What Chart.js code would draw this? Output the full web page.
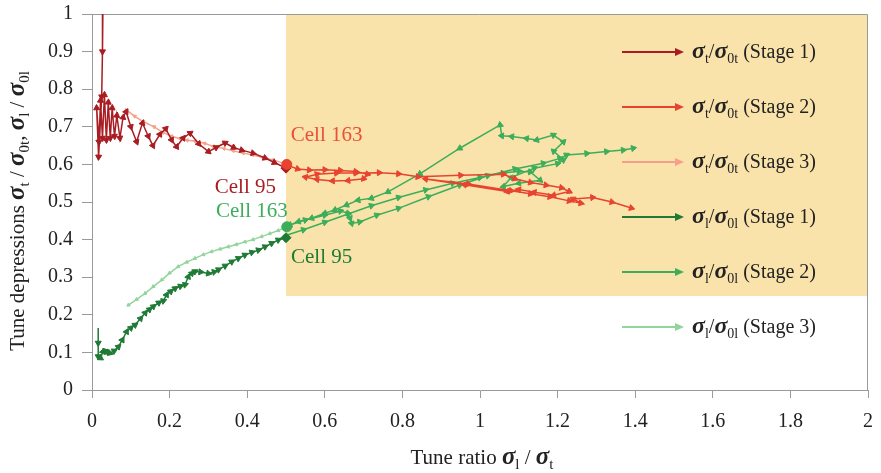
<!DOCTYPE html>
<html><head><meta charset="utf-8">
<script src="https://cdn.jsdelivr.net/npm/chart.js@4.4.1/dist/chart.umd.min.js"></script>
<style>html,body{margin:0;padding:0;background:#fff}#wrap{width:881px;height:473px}</style>
</head><body><div id="wrap"><canvas id="c" width="881" height="473"></canvas></div>
<script>
// ---- data ----
const xTickLabels = ['0','0.2','0.4','0.6','0.8','1','1.2','1.4','1.6','1.8','2'];
const yTickLabels = ['0','0.1','0.2','0.3','0.4','0.5','0.6','0.7','0.8','0.9','1'];
const shadeX = [0.5, 2];
const shadeY = [0.25, 1];

const tStage1 = [[0.028,1.0],[0.027,0.90],[0.025,0.78],[0.017,0.62],[0.012,0.75],[0.018,0.66],[0.022,0.77],[0.027,0.67],[0.032,0.785],[0.037,0.665],[0.042,0.765],[0.047,0.67],[0.052,0.75],[0.058,0.675],[0.064,0.73],[0.072,0.67],[0.08,0.725],[0.088,0.74],[0.1,0.70],[0.115,0.66],[0.13,0.71],[0.145,0.675],[0.157,0.65],[0.175,0.68],[0.19,0.695],[0.205,0.665],[0.218,0.647],[0.235,0.67],[0.253,0.683],[0.275,0.655],[0.30,0.634],[0.32,0.645],[0.343,0.657],[0.365,0.645],[0.386,0.638],[0.415,0.63],[0.446,0.617],[0.47,0.605],[0.5,0.59]];
const tStage2 = [[0.505,0.597],[0.53,0.588],[0.56,0.585],[0.60,0.586],[0.64,0.584],[0.68,0.581],[0.71,0.574],[0.70,0.562],[0.66,0.557],[0.62,0.556],[0.58,0.56],[0.55,0.566],[0.58,0.574],[0.63,0.577],[0.68,0.577],[0.74,0.578],[0.79,0.575],[0.84,0.567],[0.95,0.571],[1.06,0.574],[1.09,0.562],[1.13,0.552],[1.17,0.545],[1.21,0.538],[1.23,0.528],[1.19,0.518],[1.14,0.526],[1.10,0.533],[1.07,0.528],[0.96,0.546],[0.86,0.561],[0.97,0.548],[1.08,0.53],[1.13,0.522],[1.18,0.514],[1.23,0.503],[1.26,0.497],[1.24,0.508],[1.29,0.512],[1.34,0.5],[1.39,0.484]];
const tStage3 = [[0.502,0.600],[0.467,0.612],[0.44,0.618],[0.415,0.625],[0.39,0.630],[0.364,0.636],[0.34,0.642],[0.312,0.648],[0.29,0.656],[0.265,0.662],[0.245,0.664],[0.227,0.668],[0.205,0.675],[0.183,0.685],[0.16,0.700],[0.132,0.714],[0.11,0.728],[0.089,0.745]];
const lStage1 = [[0.016,0.165],[0.016,0.125],[0.016,0.089],[0.022,0.085],[0.028,0.102],[0.034,0.104],[0.04,0.1],[0.046,0.098],[0.057,0.104],[0.068,0.115],[0.078,0.133],[0.089,0.155],[0.1,0.165],[0.111,0.173],[0.125,0.19],[0.137,0.205],[0.148,0.214],[0.158,0.222],[0.172,0.232],[0.184,0.237],[0.192,0.253],[0.203,0.262],[0.214,0.27],[0.228,0.276],[0.24,0.28],[0.248,0.301],[0.257,0.31],[0.265,0.315],[0.28,0.314],[0.30,0.31],[0.315,0.314],[0.326,0.32],[0.343,0.33],[0.36,0.341],[0.377,0.35],[0.394,0.359],[0.412,0.366],[0.429,0.372],[0.446,0.381],[0.463,0.39],[0.48,0.399],[0.5,0.405]];
const lStage2 = [[0.503,0.412],[0.545,0.426],[0.60,0.446],[0.66,0.468],[0.72,0.49],[0.79,0.512],[0.86,0.532],[0.93,0.55],[1.0,0.565],[1.06,0.577],[1.10,0.582],[1.13,0.58],[1.155,0.558],[1.10,0.55],[1.06,0.541],[1.08,0.565],[1.14,0.59],[1.2,0.602],[1.215,0.612],[1.19,0.635],[1.215,0.66],[1.189,0.678],[1.146,0.665],[1.12,0.669],[1.082,0.674],[1.056,0.676],[1.052,0.705],[0.948,0.643],[0.845,0.575],[0.763,0.527],[0.72,0.51],[0.686,0.505],[0.656,0.492],[0.626,0.479],[0.60,0.47],[0.566,0.457],[0.532,0.448],[0.51,0.439],[0.55,0.452],[0.60,0.465],[0.64,0.476],[0.66,0.47],[0.665,0.457],[0.669,0.443],[0.69,0.447],[0.734,0.465],[0.79,0.483],[0.867,0.514],[0.948,0.545],[1.02,0.57],[1.09,0.588],[1.163,0.603],[1.206,0.616],[1.223,0.625],[1.275,0.629],[1.326,0.634],[1.369,0.638],[1.395,0.643]];
const lStage3 = [[0.502,0.434],[0.48,0.424],[0.458,0.416],[0.437,0.408],[0.415,0.40],[0.394,0.394],[0.372,0.387],[0.351,0.381],[0.33,0.375],[0.308,0.368],[0.287,0.36],[0.265,0.35],[0.244,0.34],[0.222,0.328],[0.2,0.311],[0.18,0.293],[0.158,0.275],[0.137,0.257],[0.115,0.241],[0.094,0.226]];

const seriesSym = ['t','t','t','l','l','l'];
const seriesStage = ['1','2','3','1','2','3'];
const seriesColors = ['#A81C22','#E8432F','#F5A08A','#1E7A34','#3CAE5A','#92D49C'];

// ---- helpers ----
const SERIF = "'Liberation Serif','Times New Roman',serif";
const pts = a => a.map(p => ({x:p[0], y:p[1]}));

function arrowRot(ctx){
  const d = ctx.dataset.data, i = ctx.dataIndex, ch = ctx.chart;
  if (!d || d.length < 2 || !ch.scales || !ch.scales.x) return 0;
  const a = d[i > 0 ? i-1 : 0], b = d[i > 0 ? i : 1];
  const sx = ch.scales.x, sy = ch.scales.y;
  const dx = sx.getPixelForValue(b.x) - sx.getPixelForValue(a.x);
  const dy = sy.getPixelForValue(b.y) - sy.getPixelForValue(a.y);
  return Math.atan2(dy, dx) * 180 / Math.PI + 90;
}
function lineDs(label, arr, color, r){
  return {label, data: pts(arr), showLine:true, borderColor:color, backgroundColor:color,
    borderWidth:1.5, tension:0, pointStyle:'triangle',
    pointRadius: c => c.dataIndex === 0 ? 0 : r, pointRotation: arrowRot,
    pointBackgroundColor:color, pointBorderColor:color, pointBorderWidth:1, pointHoverRadius:0};
}
function markerDs(label, p, color, style, r){
  return {label, data: pts([p]), showLine:false, pointStyle:style, pointRadius:r,
    pointBackgroundColor:color, pointBorderColor:color, pointBorderWidth:1, pointHoverRadius:0};
}

function rich(ctx, segs, x, y, align){
  let w = 0;
  for (const s of segs){ ctx.font = s.f; w += ctx.measureText(s.t).width; }
  let cx = align === 'center' ? x - w/2 : align === 'right' ? x - w : x;
  ctx.textAlign = 'left'; ctx.textBaseline = 'alphabetic';
  for (const s of segs){ ctx.font = s.f; ctx.fillStyle = s.c || '#222'; ctx.fillText(s.t, cx, y + (s.dy||0)); cx += ctx.measureText(s.t).width; }
}
function sig(sub, size){
  return [{t:'σ', f:`italic bold ${size+4}px ${SERIF}`},
          {t:sub, f:`${Math.round(size*0.72)}px ${SERIF}`, dy: Math.round(size*0.25)}];
}
function txt(t, size){ return {t, f:`${size}px ${SERIF}`}; }
function noPad(s){ s.paddingLeft = 0; s.paddingRight = 0; s.paddingTop = 0; s.paddingBottom = 0; }

// ---- plugins ----
const shadePlugin = {
  id:'shade',
  beforeDatasetsDraw(chart){
    const {ctx, scales:{x,y}, chartArea:a} = chart;
    ctx.save();
    ctx.fillStyle = '#FAE3AA';
    const x0 = x.getPixelForValue(shadeX[0]), x1 = x.getPixelForValue(shadeX[1]);
    const y0 = y.getPixelForValue(shadeY[1]), y1 = y.getPixelForValue(shadeY[0]);
    ctx.fillRect(x0, y0, x1-x0, y1-y0);
    ctx.strokeStyle = '#9a9a9a'; ctx.lineWidth = 1;
    ctx.beginPath();
    ctx.moveTo(a.left, a.top+0.5); ctx.lineTo(a.right-0.5, a.top+0.5); ctx.lineTo(a.right-0.5, a.bottom);
    ctx.stroke();
    ctx.restore();
  }
};
const annotPlugin = {
  id:'annot',
  afterDatasetsDraw(chart){
    const {ctx, scales:{x,y}} = chart;
    ctx.save();
    const P = p => [x.getPixelForValue(p[0]), y.getPixelForValue(p[1])];
    const fs = 21;
    let q = P(tStage3[0]);
    rich(ctx, [{t:'Cell 163', f:`${fs}px ${SERIF}`, c:'#E8503A'}], q[0]+4, q[1]-23, 'left');
    q = P(tStage1[tStage1.length-1]);
    rich(ctx, [{t:'Cell 95', f:`${fs}px ${SERIF}`, c:'#A81C22'}], q[0]-10, q[1]+25, 'right');
    q = P(lStage3[0]);
    rich(ctx, [{t:'Cell 163', f:`${fs}px ${SERIF}`, c:'#3CAE5A'}], q[0]+1, q[1]-10, 'right');
    q = P(lStage1[lStage1.length-1]);
    rich(ctx, [{t:'Cell 95', f:`${fs}px ${SERIF}`, c:'#1E7A34'}], q[0]+5, q[1]+25, 'left');

    // Legend
    for (let i = 0; i < 6; i++){
      const yy = 52 + i*55, col = seriesColors[i];
      ctx.strokeStyle = col; ctx.fillStyle = col; ctx.lineWidth = 2;
      ctx.beginPath(); ctx.moveTo(622, yy); ctx.lineTo(677, yy); ctx.stroke();
      ctx.beginPath(); ctx.moveTo(684, yy); ctx.lineTo(675, yy-4); ctx.lineTo(675, yy+4); ctx.closePath(); ctx.fill();
      const s = seriesSym[i];
      rich(ctx, [...sig(s,20), txt('/',20), ...sig('0'+s,20), txt(' (Stage '+seriesStage[i]+')',20)], 692, yy+6, 'left');
    }

    // Axis titles
    rich(ctx, [txt('Tune ratio ',21), ...sig('l',21), txt(' / ',21), ...sig('t',21)], 482, 464, 'center');
    ctx.translate(24, 211); ctx.rotate(-Math.PI/2);
    rich(ctx, [txt('Tune depressions ',21), ...sig('t',21), txt(' / ',21), ...sig('0t',21), txt(', ',21),
               ...sig('l',21), txt(' / ',21), ...sig('0l',21)], 0, 0, 'center');
    ctx.restore();
  }
};

const datasets = [
  markerDs('Cell 163 t', tStage3[0], '#E8432F', 'circle', 5),
  markerDs('Cell 95 t', tStage1[tStage1.length-1], '#A81C22', 'rectRot', 5),
  markerDs('Cell 163 l', lStage3[0], '#3CAE5A', 'circle', 5),
  markerDs('Cell 95 l', lStage1[lStage1.length-1], '#1E7A34', 'rectRot', 5),
  lineDs('σt/σ0t (Stage 1)', tStage1, seriesColors[0], 3.5),
  lineDs('σt/σ0t (Stage 2)', tStage2, seriesColors[1], 3.5),
  lineDs('σl/σ0l (Stage 2)', lStage2, seriesColors[4], 3.5),
  lineDs('σt/σ0t (Stage 3)', tStage3, seriesColors[2], 2),
  lineDs('σl/σ0l (Stage 1)', lStage1, seriesColors[3], 3.5),
  lineDs('σl/σ0l (Stage 3)', lStage3, seriesColors[5], 2),
];

new Chart(document.getElementById('c'), {
  type:'scatter',
  data:{datasets},
  options:{
    responsive:false, animation:false, devicePixelRatio:1,
    layout:{padding:{top:14, right:13, left:0, bottom:0}},
    plugins:{legend:{display:false}, tooltip:{enabled:false}},
    scales:{
      x:{type:'linear', min:0, max:2,
        afterFit: s => { s.height = 83; noPad(s); },
        ticks:{stepSize:0.2, autoSkip:false, maxRotation:0, padding:12, color:'#222',
          font:{family:SERIF, size:20}, callback:(v,i) => xTickLabels[i]},
        grid:{drawOnChartArea:false, drawTicks:true, tickLength:8, color:'#9a9a9a'},
        border:{display:true, color:'#9a9a9a', width:1}},
      y:{type:'linear', min:0, max:1,
        afterFit: s => { s.width = 92; noPad(s); },
        ticks:{stepSize:0.1, autoSkip:false, padding:9, color:'#222',
          font:{family:SERIF, size:20}, callback:(v,i) => yTickLabels[i]},
        grid:{drawOnChartArea:false, drawTicks:true, tickLength:10, color:'#9a9a9a'},
        border:{display:true, color:'#9a9a9a', width:1}}
    }
  },
  plugins:[shadePlugin, annotPlugin]
});
</script>
</body></html>
